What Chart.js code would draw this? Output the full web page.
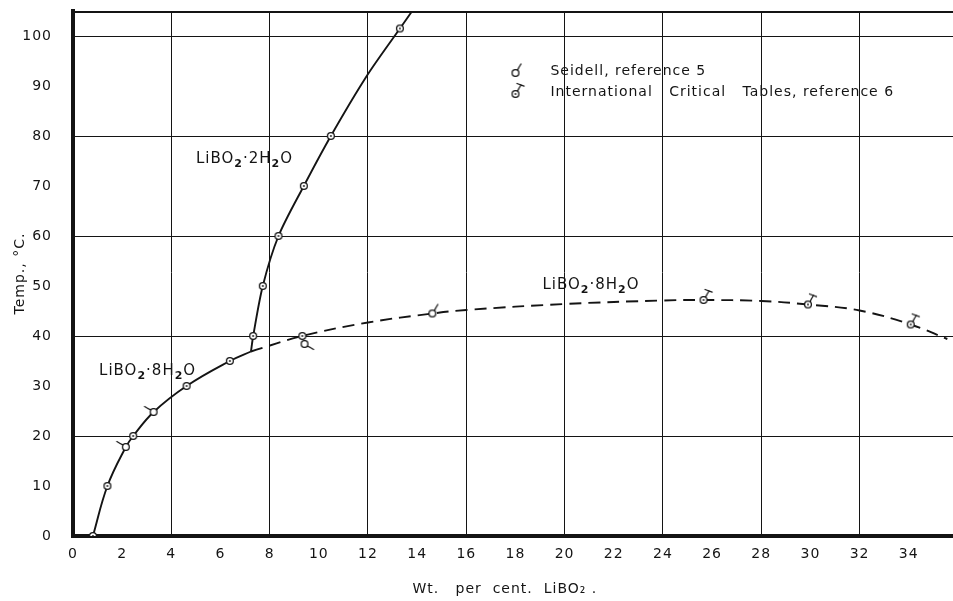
<!DOCTYPE html>
<html>
<head>
<meta charset="utf-8">
<script src="https://cdn.jsdelivr.net/npm/chart.js@4.4.1/dist/chart.umd.min.js"></script>
<style>
  body { margin: 0; background: #fff; }
  canvas { display: block; }
</style>
</head>
<body>
<canvas id="chart" width="953" height="601"></canvas>
<script>
// measured points, wt % LiBO2 against temperature
var ownX = [9.33, 0.81, 1.4, 2.45, 4.62, 6.38, 7.33, 7.72, 8.36, 9.39, 10.49, 13.3];
var ownY = [40, 0, 10, 20, 30, 35, 40, 50, 60, 70, 80, 101.5];

// Seidell points, tail turned away from the curve
var seidellX = [2.15, 3.28, 9.42, 14.62];
var seidellY = [17.8, 24.8, 38.4, 44.5];
var seidellTurn = [-90, -90, 90, 0];

var ictX = [25.65, 29.9, 34.08];
var ictY = [47.2, 46.3, 42.3];

// LiBO2.8H2O branch up to the transition point
var octaX = [0.81, 1.4, 2.15, 2.45, 3.28, 4.62, 6.38, 7.24];
var octaY = [0, 10, 17.8, 20, 24.8, 30, 35, 36.9];

// LiBO2.2H2O branch
var diX = [7.24, 7.33, 7.72, 8.36, 9.39, 10.49, 11.95, 13.3, 13.8];
var diY = [36.9, 40, 50, 60, 70, 80, 92, 101.5, 105];

// metastable LiBO2.8H2O, dashed
var metaX = [7.24, 9.33, 12, 14.62, 16, 20, 24, 25.65, 28, 29.9, 32, 34.08, 35.57];
var metaY = [36.9, 40, 42.7, 44.5, 45.2, 46.4, 47.1, 47.2, 47.0, 46.3, 45.1, 42.3, 39.4];

var xTickValues = [0, 2, 4, 6, 8, 10, 12, 14, 16, 18, 20, 22, 24, 26, 28, 30, 32, 34];
var yTickValues = [0, 10, 20, 30, 40, 50, 60, 70, 80, 90, 100];

var INK = '#141414';
var FONT = "'DejaVu Sans', sans-serif";

function pts(xs, ys) {
  return xs.map(function (x, i) { return { x: x, y: ys[i] }; });
}

// little hand-drawn style markers
function symbol(kind) {
  var c = document.createElement('canvas');
  c.width = 28; c.height = 28;
  var g = c.getContext('2d');
  var cx = 14, cy = 14, r = 3.4;
  g.strokeStyle = INK;
  g.lineWidth = 1.3;
  g.lineCap = 'round';
  if (kind !== 'own') {
    g.beginPath();
    g.moveTo(cx + 2.0, cy - 2.8);
    g.quadraticCurveTo(cx + 3.5, cy - 6, cx + 5.5, cy - 9);
    g.stroke();
    if (kind === 'ict') {
      g.beginPath();
      g.moveTo(cx + 1.5, cy - 10.5);
      g.lineTo(cx + 8.5, cy - 7.8);
      g.stroke();
    }
  }
  g.beginPath();
  g.arc(cx, cy, r, 0, Math.PI * 2);
  g.fillStyle = '#fff';
  g.fill();
  g.stroke();
  if (kind !== 'seidell') {
    g.beginPath();
    g.arc(cx, cy, 0.9, 0, Math.PI * 2);
    g.fillStyle = INK;
    g.fill();
  }
  return c;
}

var ownSym = symbol('own');
var seidellSym = symbol('seidell');
var ictSym = symbol('ict');

// text with subscripts: parts are [text, isSub]
function drawFormula(ctx, parts, x, y, size) {
  ctx.textBaseline = 'middle';
  ctx.textAlign = 'left';
  parts.forEach(function (p) {
    var s = p[1] ? Math.round(size * 0.72) : size;
    ctx.font = (p[1] ? 'bold ' : '') + s + 'px ' + FONT;
    ctx.fillText(p[0], x, p[1] ? y + size * 0.32 : y);
    x += ctx.measureText(p[0]).width;
  });
}

var octaLabel = [['LiBO', 0], ['2', 1], ['\u00b78H', 0], ['2', 1], ['O', 0]];
var diLabel = [['LiBO', 0], ['2', 1], ['\u00b72H', 0], ['2', 1], ['O', 0]];

var curveLabels = [
  { parts: diLabel, x: 5.0, y: 75.4 },
  { parts: octaLabel, x: 1.06, y: 33 },
  { parts: octaLabel, x: 19.1, y: 50.2 }
];

var frame = {
  id: 'frame',
  beforeDraw: function (chart) {
    chart.ctx.letterSpacing = '1px';
  },
  afterDraw: function (chart) {
    var ctx = chart.ctx;
    var a = chart.chartArea;
    var xs = chart.scales.x, ys = chart.scales.y;
    ctx.save();
    ctx.letterSpacing = '1px';
    // top rule of the frame
    ctx.strokeStyle = INK;
    ctx.lineWidth = 2;
    ctx.beginPath();
    ctx.moveTo(a.left, a.top + 1);
    ctx.lineTo(a.right, a.top + 1);
    ctx.stroke();

    ctx.fillStyle = INK;
    curveLabels.forEach(function (l) {
      drawFormula(ctx, l.parts, xs.getPixelForValue(l.x), ys.getPixelForValue(l.y), 15);
    });

    // key, placed inside the plot
    var keys = [
      { sym: seidellSym, label: chart.data.datasets[1].label },
      { sym: ictSym, label: chart.data.datasets[2].label }
    ];
    var lx = xs.getPixelForValue(18), ly = ys.getPixelForValue(93);
    ctx.font = '14px ' + FONT;
    ctx.textBaseline = 'middle';
    ctx.textAlign = 'left';
    keys.forEach(function (k, i) {
      var yy = ly + i * 21;
      ctx.drawImage(k.sym, lx - 14, yy - 12);
      ctx.fillText(k.label, lx + 35, yy);
    });
    ctx.restore();
    ctx.letterSpacing = '0px';
  }
};

new Chart(document.getElementById('chart'), {
  type: 'scatter',
  data: {
    datasets: [
      { label: 'own', data: pts(ownX, ownY), pointStyle: ownSym, pointRadius: 4 },
      {
        label: 'Seidell, reference 5', data: pts(seidellX, seidellY), pointStyle: seidellSym, pointRadius: 4,
        pointRotation: function (c) { return seidellTurn[c.dataIndex] || 0; }
      },
      { label: 'International   Critical   Tables, reference 6', data: pts(ictX, ictY), pointStyle: ictSym, pointRadius: 4 },
      { label: 'octa', data: pts(octaX, octaY), showLine: true, pointRadius: 0, borderColor: INK, borderWidth: 1.9, tension: 0.4 },
      { label: 'di', data: pts(diX, diY), showLine: true, pointRadius: 0, borderColor: INK, borderWidth: 1.9, tension: 0.3 },
      { label: 'meta', data: pts(metaX, metaY), showLine: true, pointRadius: 0, borderColor: INK, borderWidth: 1.9, borderDash: [12, 7], tension: 0.4 }
    ]
  },
  options: {
    responsive: false,
    animation: false,
    events: [],
    layout: { autoPadding: false, padding: { top: 11, left: 0, right: 0, bottom: 0 } },
    plugins: { legend: { display: false }, tooltip: { enabled: false } },
    scales: {
      x: {
        type: 'linear', min: 0, max: 35.8,
        afterBuildTicks: function (s) { s.ticks = xTickValues.map(function (v) { return { value: v }; }); },
        afterFit: function (s) { s.height = 65; s.paddingLeft = 0; s.paddingRight = 0; },
        grid: {
          drawTicks: false, lineWidth: 1,
          color: function (c) { return c.tick && c.tick.value % 4 === 0 ? INK : 'rgba(0,0,0,0)'; }
        },
        border: { color: INK, width: 4 },
        ticks: { color: INK, padding: 10, maxRotation: 0, autoSkip: false, font: { family: FONT, size: 14 } },
        title: {
          display: true, text: 'Wt.   per  cent.  LiBO\u2082 .   ', color: INK,
          font: { family: FONT, size: 14 }, padding: { top: 0, bottom: 3 }
        }
      },
      y: {
        type: 'linear', min: 0, max: 105,
        afterBuildTicks: function (s) { s.ticks = yTickValues.map(function (v) { return { value: v }; }); },
        afterFit: function (s) { s.width = 73; s.paddingTop = 0; s.paddingBottom = 0; },
        grid: {
          drawTicks: false, lineWidth: 1,
          color: function (c) { return c.tick && c.tick.value % 20 === 0 ? INK : 'rgba(0,0,0,0)'; }
        },
        border: { color: INK, width: 4 },
        ticks: { color: INK, padding: 21, autoSkip: false, font: { family: FONT, size: 14 } },
        title: {
          display: true, text: 'Temp., \u00b0C.', color: INK,
          font: { family: FONT, size: 14 }, padding: { top: 12, bottom: 0 }
        }
      }
    }
  },
  plugins: [frame]
});
</script>
</body>
</html>
